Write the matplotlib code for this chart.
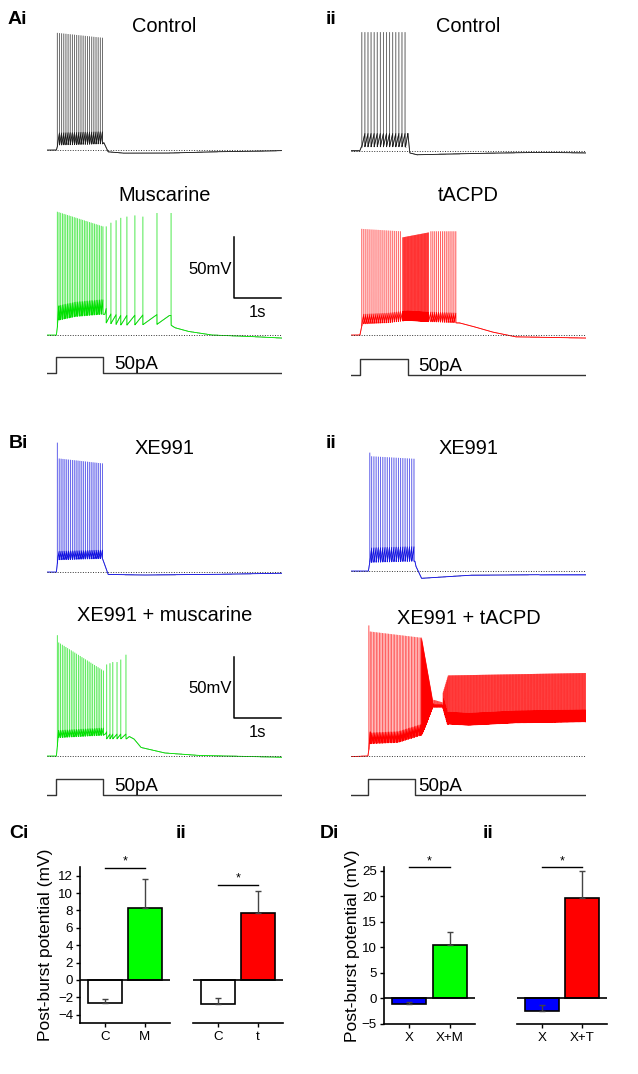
import matplotlib.pyplot as plt
import numpy as np
from matplotlib.collections import LineCollection

plt.rcParams['font.family'] = ['Liberation Sans', 'DejaVu Sans']

W, H = 638, 1074
DT = 0.0005
T = np.arange(0, 5.0, DT)
PX_PER_MV = 1.22
PX_PER_PA = 0.32

# ---------------- trace data (time in s, voltage in mV relative to rest) ----------------
# slow: (time, trough level) breakpoints; epochs: (t_first, t_last, n_spikes, peak_first, peak_last, ramp)
ai_ctrl_slow = [(0, 0), (0.20, 0), (0.23, 4), (1.18, 5), (1.21, 6), (1.30, -1.5), (1.6, -2.5),
                (2.6, -2.5), (3.5, -1.5), (4.5, -1), (5, -0.5)]
ai_ctrl_epochs = [(0.22, 1.18, 22, 96, 92, 10)]

ai_musc_slow = [(0, 0), (0.20, 0), (0.24, 12), (0.6, 15), (1.19, 17), (1.23, 10), (1.6, 8),
                (2.6, 9), (2.72, 6), (3.0, 3), (3.5, 0), (4.2, -1), (5, -2.5)]
ai_musc_epochs = [(0.22, 1.19, 28, 101, 89, 12),
                  (1.26, 1.26, 1, 89, 89, 8), (1.36, 1.36, 1, 92, 92, 8),
                  (1.47, 1.47, 1, 94, 94, 8), (1.57, 1.57, 1, 96, 96, 8),
                  (1.70, 1.70, 1, 97, 97, 8), (1.87, 1.87, 1, 98, 98, 8),
                  (2.04, 2.04, 1, 97, 97, 8), (2.34, 2.34, 1, 100, 100, 8),
                  (2.64, 2.64, 1, 100, 100, 8)]

aii_ctrl_slow = [(0, 0), (0.19, 0), (0.22, 3), (1.16, 3), (1.21, 14), (1.25, -2), (1.4, -3.5),
                 (2.5, -2.5), (4.0, -1.5), (5, -2)]
aii_ctrl_epochs = [(0.23, 1.15, 15, 97, 97, 11)]

aii_tacpd_slow = [(0, 0), (0.19, 0), (0.24, 9), (0.8, 10), (1.2, 12), (1.6, 11), (2.24, 10),
                  (2.3, 10), (2.6, 7), (3.0, 2.5), (3.5, -1.5), (5, -2.5)]
aii_tacpd_epochs = [(0.23, 1.05, 20, 87, 85, 8), (1.10, 1.65, 45, 80, 84, 8),
                    (1.70, 2.23, 14, 85, 85, 8)]

bi_xe_slow = [(0, 0), (0.20, 0), (0.23, 10), (1.18, 11), (1.21, 8), (1.30, -2), (2.0, -2.5),
              (3.5, -2), (5, -1)]
bi_xe_epochs = [(0.22, 0.22, 1, 106, 106, 7), (0.26, 1.18, 24, 93, 89, 7)]

bi_musc_slow = [(0, 0), (0.20, 0), (0.24, 15), (1.2, 17), (1.25, 14), (1.69, 14), (1.75, 16),
                (1.85, 14), (2.0, 7), (2.5, 2.5), (3.2, 0.5), (5, -1)]
bi_musc_epochs = [(0.22, 0.22, 1, 99, 99, 6), (0.25, 1.20, 26, 93, 70, 6),
                  (1.27, 1.27, 1, 75, 75, 4), (1.34, 1.34, 1, 76, 76, 4),
                  (1.40, 1.40, 1, 77, 77, 4), (1.49, 1.49, 1, 77, 77, 4),
                  (1.57, 1.57, 1, 79, 79, 4), (1.68, 1.68, 1, 83, 83, 4)]

bii_xe_slow = [(0, 0), (0.37, 0), (0.40, 7), (1.36, 8), (1.38, 4), (1.5, -6), (1.7, -5.5),
               (2.5, -3.5), (4.0, -3), (5, -3)]
bii_xe_epochs = [(0.40, 0.40, 1, 97, 97, 12), (0.44, 1.34, 20, 94, 92, 12)]

bii_tacpd_slow = [(0, -0.5), (0.36, 0), (0.40, 10), (1.0, 11), (1.5, 17), (1.58, 24), (1.74, 40),
                  (1.95, 40), (2.05, 26), (2.5, 25), (3.5, 27), (5, 28)]
bii_tacpd_epochs = [(0.38, 0.38, 1, 107, 107, 10), (0.41, 1.48, 34, 102, 97, 9),
                    (1.50, 1.74, 60, 97, 45, 3), (1.76, 1.94, 12, 46, 44, 2),
                    (1.96, 2.06, 10, 52, 65, 10), (2.07, 4.99, 230, 66, 68, 10)]

# current steps: (on, off) in s, amplitude 50 pA
ai_step = (0.20, 1.20)
aii_step = (0.19, 1.21)
bi_step = (0.20, 1.20)
bii_step = (0.37, 1.37)
STEP_PA = 50

# ---------------- bar data ----------------
ci_labels = ['C', 'M']
ci_means = [-2.65, 8.25]
ci_err = [0.45, 3.4]
cii_labels = ['C', 't']
cii_means = [-2.8, 7.75]
cii_err = [0.7, 2.45]
di_labels = ['X', 'X+M']
di_means = [-1.05, 10.45]
di_err = [0.4, 2.5]
dii_labels = ['X', 'X+T']
dii_means = [-2.4, 19.6]
dii_err = [1.1, 5.4]


def make_trace(slow, epochs):
    st, sv = zip(*slow)
    v = np.interp(T, st, sv)
    spikes = []
    for t0, t1, n, p0, p1, ramp in epochs:
        for ts, pk in zip(np.linspace(t0, t1, n), np.linspace(p0, p1, n)):
            spikes.append((ts, pk, ramp))
    spikes.sort()
    for (ta, pa, ra), (tb, pb, rb) in zip(spikes[:-1], spikes[1:]):
        if tb - ta < 0.35:
            m = (T > ta) & (T < tb)
            v[m] += ra * (T[m] - ta) / (tb - ta)
    sub = v.copy()
    for ts, pk, ra in spikes:
        v[min(int(round(ts / DT)), len(T) - 1)] = pk
    return v, sub


def px_axes(fig, x0, y0, x1, y1):
    return fig.add_axes([x0 / W, 1 - y1 / H, (x1 - x0) / W, (y1 - y0) / H])


def trace_axes(fig, x0, base_y):
    ax = px_axes(fig, x0, base_y - 110 * PX_PER_MV, x0 + 235, base_y + 15 * PX_PER_MV)
    ax.set_xlim(0, 5)
    ax.set_ylim(-15, 110)
    ax.axis('off')
    return ax


def draw_trace(fig, x0, base_y, slow, epochs, color):
    ax = trace_axes(fig, x0, base_y)
    v, sub = make_trace(slow, epochs)
    pts = np.column_stack([T, v])
    segs = np.stack([pts[:-1], pts[1:]], axis=1)
    # each segment drawn on its own so dense firing builds up like the recording
    ax.add_collection(LineCollection(segs, colors=color, linewidths=0.6, alpha=0.45))
    ax.plot(T, sub, color=color, lw=0.6)
    ax.axhline(0, color='#333333', lw=0.7, ls=(0, (1, 1.6)))
    return ax


def draw_step(fig, x0, base_y, step, label_t=1.42):
    ax = px_axes(fig, x0, base_y - 60 * PX_PER_PA, x0 + 235, base_y + 10 * PX_PER_PA)
    ax.set_xlim(0, 5)
    ax.set_ylim(-10, 60)
    ax.axis('off')
    on, off = step
    ax.plot([0, on, on, off, off, 5], [0, 0, STEP_PA, STEP_PA, 0, 0], color='#333333', lw=1)
    ax.text(label_t, 28, '50pA', fontsize=13.5, va='center', ha='left')


def scale_bar(ax, t0, v0):
    ax.plot([t0, t0, t0 + 1], [v0 + 50, v0, v0], color='black', lw=1.1, clip_on=False)
    ax.text(t0 - 0.05, v0 + 24, '50mV', fontsize=12, ha='right', va='center')
    ax.text(t0 + 0.5, v0 - 11.5, '1s', fontsize=12, ha='center', va='center')


def title(fig, cx, cy, s):
    fig.text(cx / W, 1 - cy / H, s, fontsize=14.4, ha='center', va='center')


def panel_label(fig, x, cy, s):
    fig.text(x / W, 1 - cy / H, s, fontsize=14, fontweight='bold', ha='left', va='center')


fig = plt.figure(figsize=(W / 100, H / 100), dpi=100)

LX, RX = 47, 351
# A
draw_trace(fig, LX, 150, ai_ctrl_slow, ai_ctrl_epochs, '#1a1a1a')
ax = draw_trace(fig, LX, 335, ai_musc_slow, ai_musc_epochs, '#00e000')
scale_bar(ax, 3.98, 30)
draw_step(fig, LX, 373, ai_step)
draw_trace(fig, RX, 150.5, aii_ctrl_slow, aii_ctrl_epochs, '#1a1a1a')
draw_trace(fig, RX, 335, aii_tacpd_slow, aii_tacpd_epochs, '#ff0000')
draw_step(fig, RX, 375, aii_step)
# B
draw_trace(fig, LX, 572, bi_xe_slow, bi_xe_epochs, '#1010e0')
ax = draw_trace(fig, LX, 756, bi_musc_slow, bi_musc_epochs, '#00e000')
scale_bar(ax, 3.98, 31)
draw_step(fig, LX, 795, bi_step)
draw_trace(fig, RX, 571, bii_xe_slow, bii_xe_epochs, '#1010e0')
draw_trace(fig, RX, 756, bii_tacpd_slow, bii_tacpd_epochs, '#ff0000')
draw_step(fig, RX, 795, bii_step, label_t=1.44)

title(fig, 164.5, 26, 'Control')
title(fig, 164.5, 195, 'Muscarine')
title(fig, 468.5, 26, 'Control')
title(fig, 468.5, 195, 'tACPD')
title(fig, 164.5, 449, 'XE991')
title(fig, 164.5, 615.5, 'XE991 + muscarine')
title(fig, 468.5, 449, 'XE991')
title(fig, 468.5, 618, 'XE991 + tACPD')

panel_label(fig, 8, 20, 'Ai')
panel_label(fig, 326, 20, 'ii')
panel_label(fig, 9, 444, 'Bi')
panel_label(fig, 326, 444, 'ii')
panel_label(fig, 9, 833, 'Ci')
panel_label(fig, 176, 833, 'ii')
panel_label(fig, 320, 833, 'Di')
panel_label(fig, 483, 833, 'ii')


# ---------------- bar charts ----------------
def bars(x0, x1, y_top_px, y_bot_px, ylim, labels, means, err, colors, sig_y, show_y, yticks):
    ax = px_axes(fig, x0, y_top_px, x1, y_bot_px)
    xs = np.arange(len(means))
    ax.bar(xs, means, width=0.85, color=colors, edgecolor='black', linewidth=1.2, zorder=2)
    ax.errorbar(xs, means, yerr=[np.zeros(len(err)), err], fmt='none', ecolor='#444444',
                elinewidth=1, capsize=2.5, capthick=1, zorder=3)
    ax.axhline(0, color='black', lw=1.2, zorder=4)
    ax.set_xlim(-0.625, 1.625)
    ax.set_ylim(*ylim)
    ax.set_xticks(xs)
    ax.set_xticklabels(labels)
    for s in ['top', 'right']:
        ax.spines[s].set_visible(False)
    ax.spines['bottom'].set_linewidth(1.2)
    ax.spines['left'].set_linewidth(1.2)
    ax.tick_params(direction='out', length=3, width=1, labelsize=9.6, pad=2)
    ax.tick_params(axis='x', pad=3)
    if show_y:
        ax.set_yticks(yticks)
    else:
        ax.spines['left'].set_visible(False)
        ax.set_yticks([])
    ax.plot([0, 1], [sig_y, sig_y], color='black', lw=1, clip_on=False)
    ax.text(0.5, sig_y, '*', ha='center', va='bottom', fontsize=9, clip_on=False)
    return ax


c_ylim = (-4.9, 13)
c_top = 980 - 13 * 8.69
c_bot = 980 + 4.9 * 8.69
bars(80, 170, c_top, c_bot, c_ylim, ci_labels, ci_means, ci_err, ['white', '#00ff00'],
     12.9, True, np.arange(-4, 13, 2))
bars(193, 283, c_top, c_bot, c_ylim, cii_labels, cii_means, cii_err, ['white', '#ff0000'],
     10.95, False, None)
d_ylim = (-5, 25.8)
d_top = 998.3 - 25.8 * 5.1
d_bot = 998.3 + 5 * 5.1
bars(384, 475, d_top, d_bot, d_ylim, di_labels, di_means, di_err, ['#0000ff', '#00ff00'],
     25.7, True, np.arange(-5, 26, 5))
bars(517, 607, d_top, d_bot, d_ylim, dii_labels, dii_means, dii_err, ['#0000ff', '#ff0000'],
     25.7, False, None)

fig.text(46 / W, 1 - 945 / H, 'Post-burst potential (mV)', rotation=90, fontsize=12.5,
         ha='center', va='center')
fig.text(352 / W, 1 - 945.5 / H, 'Post-burst potential (mV)', rotation=90, fontsize=12.5,
         ha='center', va='center')

fig.savefig('out.png', dpi=100)
